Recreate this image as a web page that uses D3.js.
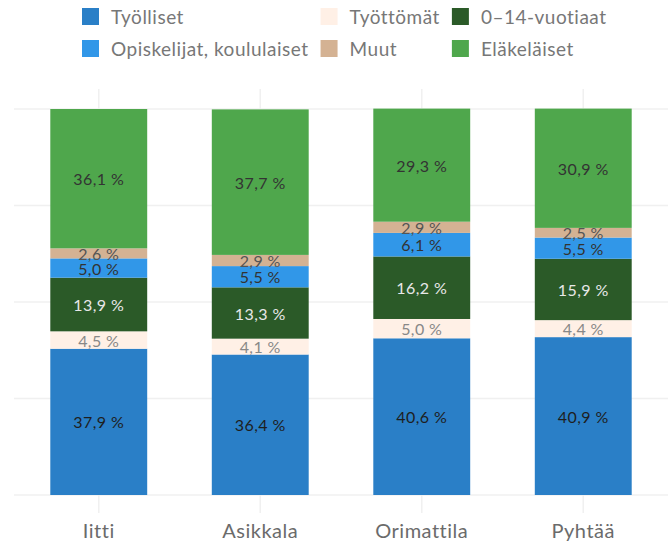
<!DOCTYPE html>
<html>
<head>
<meta charset="utf-8">
<script src="https://cdn.jsdelivr.net/npm/d3@7"></script>
<style>
  body { margin: 0; background: #fff; }
  svg { font-family: Lato, "Open Sans", sans-serif; }
</style>
</head>
<body>
<div id="chart"></div>
<script>
var kunnat = ["Iitti", "Asikkala", "Orimattila", "Pyhtää"];
var ryhmat = ["Työlliset", "Työttömät", "0–14-vuotiaat", "Opiskelijat, koululaiset", "Muut", "Eläkeläiset"];
var varit = ["#2a7fc7", "#fff0e6", "#2b5a28", "#3197e8", "#d4b293", "#4fa74c"];
var tekstivarit = ["#1e1e1e", "#888888", "#e8e8e8", "#333333", "#555555", "#333333"];

var tyolliset   = [37.9, 36.4, 40.6, 40.9];
var tyottomat   = [4.5, 4.1, 5.0, 4.4];
var lapset      = [13.9, 13.3, 16.2, 15.9];
var opiskelijat = [5.0, 5.5, 6.1, 5.5];
var muut        = [2.6, 2.9, 2.9, 2.5];
var elakelaiset = [36.1, 37.7, 29.3, 30.9];
var yTicks = [0, 25, 50, 75, 100];

var sarjat = [tyolliset, tyottomat, lapset, opiskelijat, muut, elakelaiset];

// taulukko d3.stack:lle
var taulu = kunnat.map(function(k, i) {
  var rivi = {kunta: k};
  ryhmat.forEach(function(r, j) { rivi[r] = sarjat[j][i]; });
  return rivi;
});

var width = 670, height = 545;
var svg = d3.select("#chart").append("svg")
  .attr("width", width)
  .attr("height", height);

var x = d3.scaleBand()
  .domain(kunnat)
  .range([18, 664])
  .paddingInner(0.4)
  .paddingOuter(0.2);

var y = d3.scaleLinear()
  .domain([0, 100])
  .range([495, 109]);

var color = d3.scaleOrdinal().domain(ryhmat).range(varit);
var textColor = d3.scaleOrdinal().domain(ryhmat).range(tekstivarit);

// ruudukko
svg.append("g").selectAll("line.h")
  .data(yTicks)
  .enter().append("line")
  .attr("x1", 14).attr("x2", 668)
  .attr("y1", function(d) { return y(d); })
  .attr("y2", function(d) { return y(d); })
  .attr("stroke", "#f0f0f0")
  .attr("stroke-width", 1.5);

var vx = svg.append("g").selectAll("g")
  .data(kunnat)
  .enter().append("g");
vx.append("line")
  .attr("x1", function(d) { return x(d) + x.bandwidth() / 2; })
  .attr("x2", function(d) { return x(d) + x.bandwidth() / 2; })
  .attr("y1", y(100) - 20).attr("y2", y(100))
  .attr("stroke", "#f0f0f0").attr("stroke-width", 1.5);
vx.append("line")
  .attr("x1", function(d) { return x(d) + x.bandwidth() / 2; })
  .attr("x2", function(d) { return x(d) + x.bandwidth() / 2; })
  .attr("y1", y(0)).attr("y2", y(0) + 18)
  .attr("stroke", "#f0f0f0").attr("stroke-width", 1.5);

var stack = d3.stack().keys(ryhmat);
var pinot = stack(taulu);

var kerrokset = svg.append("g").selectAll("g")
  .data(pinot)
  .enter().append("g")
  .attr("fill", function(d) { return color(d.key); });

kerrokset.selectAll("rect")
  .data(function(d) { return d; })
  .enter().append("rect")
  .attr("x", function(d) { return x(d.data.kunta); })
  .attr("width", x.bandwidth())
  .attr("y", function(d) { return y(d[1]); })
  .attr("height", function(d) { return y(d[0]) - y(d[1]); });

var muotoilu = function(v) { return d3.format(".1f")(v).replace(".", ",") + " %"; };

var tekstit = svg.append("g").selectAll("g")
  .data(pinot)
  .enter().append("g")
  .attr("fill", function(d) { return textColor(d.key); });

tekstit.selectAll("text")
  .data(function(d) { return d; })
  .enter().append("text")
  .attr("x", function(d) { return x(d.data.kunta) + x.bandwidth() / 2; })
  .attr("y", function(d) { return (y(d[0]) + y(d[1])) / 2; })
  .attr("text-anchor", "middle")
  .attr("dominant-baseline", "central")
  .style("font-size", "16px")
  .style("letter-spacing", "0.4px")
  .text(function(d) { return muotoilu(d[1] - d[0]); });

// x-akselin nimet
svg.append("g").selectAll("text")
  .data(kunnat)
  .enter().append("text")
  .attr("x", function(d) { return x(d) + x.bandwidth() / 2; })
  .attr("y", 538)
  .attr("text-anchor", "middle")
  .attr("fill", "#6b6b6b")
  .style("font-size", "20px")
  .style("letter-spacing", "0.5px")
  .text(function(d) { return d; });

// selite, kolme saraketta kahdella rivillä
var selite = svg.append("g");
var sarakkeet = 3;
var kohteet = selite.selectAll("g")
  .data(ryhmat)
  .enter().append("g");
kohteet.append("rect")
  .attr("width", 17).attr("height", 17)
  .attr("fill", function(d) { return color(d); });
kohteet.append("text")
  .attr("x", 29).attr("y", 8.5)
  .attr("dominant-baseline", "central")
  .attr("fill", "#777")
  .style("font-size", "19px")
  .style("letter-spacing", "0.5px")
  .text(function(d) { return d; });

var leveydet = [];
kohteet.each(function(d, i) {
  var w = this.querySelector("text").getComputedTextLength();
  var c = i % sarakkeet;
  leveydet[c] = Math.max(leveydet[c] || 0, w);
});
var sx = [82];
for (var c = 1; c < sarakkeet; c++) sx[c] = sx[c - 1] + 29 + leveydet[c - 1] + 12;
kohteet.attr("transform", function(d, i) {
  return "translate(" + sx[i % sarakkeet] + "," + (8 + Math.floor(i / sarakkeet) * 32) + ")";
});
</script>
</body>
</html>
